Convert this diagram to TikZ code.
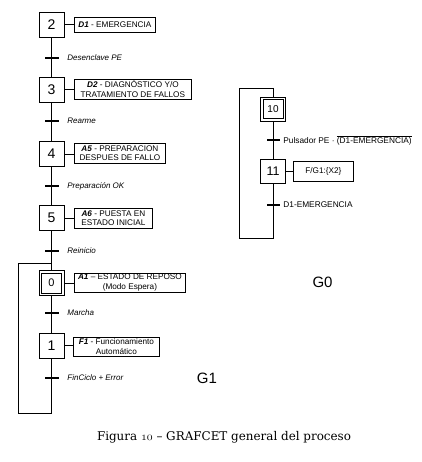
\documentclass[tikz,border=0pt]{standalone}
\usepackage{fontspec}
\usepackage{graphicx}
\setmainfont{Liberation Sans}
\newfontfamily\capfont{DejaVu Serif}
\newcommand{\osnum}[1]{{\usefont{OML}{cmm}{m}{it}#1}}
\begin{document}
\begin{tikzpicture}[x=1pt,y=-1pt,
  line width=0.8pt,
  stepbox/.style={draw, minimum width=25pt, minimum height=25pt, inner sep=0pt, font=\fontsize{14}{14}\selectfont},
  actbox/.style={draw, anchor=west, inner sep=0pt, align=center, font=\fontsize{8.2}{9.5}\selectfont},
  tbar/.style={fill=black, draw=none, minimum width=14pt, minimum height=2pt, inner sep=0pt},
  tlabel/.style={anchor=west, inner sep=0pt, font=\fontsize{8}{9.5}\selectfont\itshape},
  tlabelup/.style={anchor=west, inner sep=0pt, font=\fontsize{8.3}{9.5}\selectfont},
  glabel/.style={inner sep=0pt, font=\fontsize{15}{15}\selectfont}
]
\useasboundingbox (0,0) rectangle (421,462);

% ---------------- G1 ----------------
\node[stepbox] (s2) at (51.5,24.5) {2};
\node[actbox, minimum width=81pt, minimum height=15pt] (a2) at (74,24.5) {\textbf{\textit{D1}} - EMERGENCIA};
\node[tbar] (t1) at (51.5,58) {};
\node[tlabel] (l1) at (67,58) {Desenclave PE};

\node[stepbox] (s3) at (51.5,89.5) {3};
\node[actbox, minimum width=117pt, minimum height=20pt] (a3) at (74,89) {\textbf{\textit{D2}} - DIAGNÓSTICO Y/O\\TRATAMIENTO DE FALLOS};
\node[tbar] (t2) at (51.5,121) {};
\node[tlabel] (l2) at (67,121) {Rearme};

\node[stepbox] (s4) at (51.5,154) {4};
\node[actbox, minimum width=91pt, minimum height=20pt] (a4) at (74,153) {\textbf{\textit{A5}} - PREPARACION\\DESPUES DE FALLO};
\node[tbar] (t3) at (51.5,186) {};
\node[tlabel] (l3) at (67,186) {Preparación OK};

\node[stepbox] (s5) at (51.5,218) {5};
\node[actbox, minimum width=78pt, minimum height=20pt] (a5) at (74,218) {\textbf{\textit{A6}} - PUESTA EN\\ESTADO INICIAL};
\node[tbar] (t4) at (51.5,251) {};
\node[tlabel] (l4) at (67,251) {Reinicio};

\coordinate (j1) at (51.5,263);
\node[stepbox, font=\fontsize{11}{11}\selectfont] (s0) at (51.5,283) {0};
\draw ([shift={(3pt,3pt)}]s0.south west) rectangle ([shift={(-3pt,-3pt)}]s0.north east);
\node[actbox, minimum width=111pt, minimum height=19pt] (a0) at (74,282.5) {\textbf{\textit{A1}} – ESTADO DE REPOSO\\(Modo Espera)};
\node[tbar] (t5) at (51.5,313) {};
\node[tlabel] (l5) at (67,313) {Marcha};

\node[stepbox] (s1) at (51.5,345.5) {1};
\node[actbox, minimum width=86pt, minimum height=19pt] (a1) at (73,346.5) {\textbf{\textit{F1}} - Funcionamiento\\Automático};
\node[tbar] (t6) at (51.5,378) {};
\node[tlabel] (l6) at (67,378) {FinCiclo + Error};

\coordinate (b1) at (51.5,413);
\coordinate (b2) at (18,413);
\coordinate (b3) at (18,263);

\draw (s2) -- (t1) -- (s3) -- (t2) -- (s4) -- (t3) -- (s5) -- (t4) -- (j1) -- (s0) -- (t5) -- (s1) -- (t6) -- (b1) -- (b2) -- (b3) -- (j1);
\draw (s2.east) -- (s2.east -| a2.west);
\draw (s3.east) -- (s3.east -| a3.west);
\draw (s4.east) -- (s4.east -| a4.west);
\draw (s5.east) -- (s5.east -| a5.west);
\draw (s0.east) -- (s0.east -| a0.west);
\draw (s1.east) -- (s1.east -| a1.west);

\node[glabel] (g1) at (207,378) {G1};

% ---------------- G0 ----------------
\coordinate (j0) at (273,88);
\node[stepbox, minimum height=24pt, font=\fontsize{10}{10}\selectfont] (s10) at (273,109) {10};
\draw ([shift={(3pt,3pt)}]s10.south west) rectangle ([shift={(-3pt,-3pt)}]s10.north east);
\node[tbar, minimum width=13pt] (t7) at (273,140) {};
\node[tlabelup] (l7) at (283,140) {Pulsador PE · $\overline{\hbox{(D1-EMERGENCIA)}}$};

\node[stepbox, minimum height=24pt, font=\fontsize{12.5}{12.5}\selectfont] (s11) at (273,171) {11};
\node[actbox, minimum width=60pt, minimum height=20pt] (a11) at (293,171) {F/G1:\{X2\}};
\node[tbar, minimum width=13pt] (t8) at (273,205) {};
\node[tlabelup] (l8) at (283,205) {D1-EMERGENCIA};

\coordinate (c1) at (273,238);
\coordinate (c2) at (239,238);
\coordinate (c3) at (239,88);

\draw (j0) -- (s10) -- (t7) -- (s11) -- (t8) -- (c1) -- (c2) -- (c3) -- (j0);
\draw (s11.east) -- (s11.east -| a11.west);

\node[glabel] (g0) at (322.5,282) {G0};

% ---------------- caption ----------------
\node[anchor=base, inner sep=0pt, font=\capfont\fontsize{12}{14}\selectfont] (cap) at (224,440) {\resizebox{254pt}{\height}{Figura \osnum{10} – GRAFCET general del proceso}};
\end{tikzpicture}
\end{document}
